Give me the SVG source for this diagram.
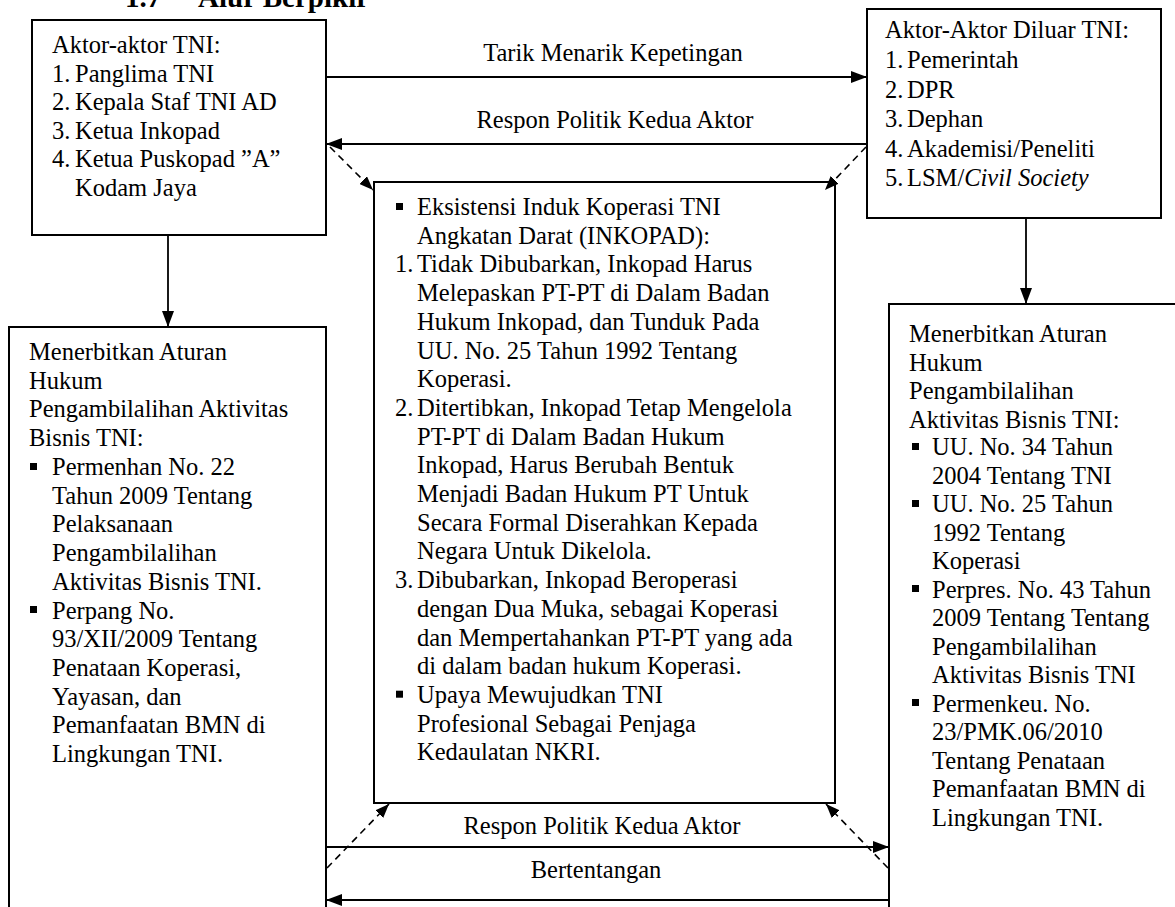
<svg xmlns="http://www.w3.org/2000/svg" width="1175" height="907" viewBox="0 0 1175 907">
<style>
text{font-family:"Liberation Serif","Times New Roman",serif;font-size:24.5px;fill:#000}
.title{font-weight:bold;font-size:29px}
.box{fill:#fff;stroke:#000;stroke-width:2}
.ln{stroke:#000;stroke-width:1.8;fill:none}
.dash{stroke:#000;stroke-width:1.6;fill:none;stroke-dasharray:7 5}
.mid{text-anchor:middle}
.b{fill:#000}
</style>
<defs>
<marker id="ah" viewBox="0 0 16 12" refX="16" refY="6" markerWidth="16" markerHeight="12" markerUnits="userSpaceOnUse" orient="auto">
<path d="M0,0 L16,6 L0,12 Z" fill="#000"/>
</marker>
<marker id="ahd" viewBox="0 0 14 11" refX="14" refY="5.5" markerWidth="14" markerHeight="11" markerUnits="userSpaceOnUse" orient="auto">
<path d="M0,0 L14,5.5 L0,11 Z" fill="#000"/>
</marker>
</defs>
<rect width="1175" height="907" fill="#fff"/>
<g id="title">
<text class="title" x="125" y="7">1.7</text>
<text class="title" x="198" y="7">Alur Berpikir</text>
</g>
<g id="node-aktor-tni">
<rect class="box" x="32" y="20" width="294" height="215"/>
<text x="52" y="53">Aktor-aktor TNI:</text>
<text x="52" y="81.5">1.</text><text x="75" y="81.5">Panglima TNI</text>
<text x="52" y="110">2.</text><text x="75" y="110">Kepala Staf TNI AD</text>
<text x="52" y="138.5">3.</text><text x="75" y="138.5">Ketua Inkopad</text>
<text x="52" y="167">4.</text><text x="75" y="167">Ketua Puskopad ”A”</text>
<text x="75" y="195.5">Kodam Jaya</text>
</g>
<g id="node-aktor-luar">
<rect class="box" x="867" y="9" width="294" height="209"/>
<text x="885" y="38">Aktor-Aktor Diluar TNI:</text>
<text x="885" y="68">1.</text><text x="907" y="68">Pemerintah</text>
<text x="885" y="97.5">2.</text><text x="907" y="97.5">DPR</text>
<text x="885" y="127">3.</text><text x="907" y="127">Dephan</text>
<text x="885" y="156.5">4.</text><text x="907" y="156.5">Akademisi/Peneliti</text>
<text x="885" y="186">5.</text><text x="907" y="186">LSM/<tspan font-style="italic">Civil Society</tspan></text>
</g>
<g id="node-inkopad">
<rect class="box" x="374" y="182" width="461" height="621"/>
<rect class="b" x="396" y="203" width="7" height="7"/>
<text x="395" y="272.4">1.</text>
<text x="395" y="415.8">2.</text>
<text x="395" y="587.9">3.</text>
<rect class="b" x="396" y="690.7" width="7" height="7"/>
<text x="417" y="215">Eksistensi Induk Koperasi TNI<tspan x="417" dy="28.7">Angkatan Darat (INKOPAD):</tspan><tspan x="417" dy="28.7">Tidak Dibubarkan, Inkopad Harus</tspan><tspan x="417" dy="28.7">Melepaskan PT-PT di Dalam Badan</tspan><tspan x="417" dy="28.7">Hukum Inkopad, dan Tunduk Pada</tspan><tspan x="417" dy="28.7">UU. No. 25 Tahun 1992 Tentang</tspan><tspan x="417" dy="28.7">Koperasi.</tspan><tspan x="417" dy="28.7">Ditertibkan, Inkopad Tetap Mengelola</tspan><tspan x="417" dy="28.7">PT-PT di Dalam Badan Hukum</tspan><tspan x="417" dy="28.7">Inkopad, Harus Berubah Bentuk</tspan><tspan x="417" dy="28.7">Menjadi Badan Hukum PT Untuk</tspan><tspan x="417" dy="28.7">Secara Formal Diserahkan Kepada</tspan><tspan x="417" dy="28.7">Negara Untuk Dikelola.</tspan><tspan x="417" dy="28.7">Dibubarkan, Inkopad Beroperasi</tspan><tspan x="417" dy="28.7">dengan Dua Muka, sebagai Koperasi</tspan><tspan x="417" dy="28.7">dan Mempertahankan PT-PT yang ada</tspan><tspan x="417" dy="28.7">di dalam badan hukum Koperasi.</tspan><tspan x="417" dy="28.7">Upaya Mewujudkan TNI</tspan><tspan x="417" dy="28.7">Profesional Sebagai Penjaga</tspan><tspan x="417" dy="28.7">Kedaulatan NKRI.</tspan></text>
</g>
<g id="node-aturan-kiri">
<rect class="box" x="9" y="327" width="317" height="600"/>
<text x="29" y="360">Menerbitkan Aturan<tspan x="29" dy="28.7">Hukum</tspan><tspan x="29" dy="28.7">Pengambilalihan Aktivitas</tspan><tspan x="29" dy="28.7">Bisnis TNI:</tspan></text>
<rect class="b" x="30" y="463" width="7" height="7"/>
<rect class="b" x="30" y="606" width="7" height="7"/>
<text x="52" y="475">Permenhan No. 22<tspan x="52" dy="28.7">Tahun 2009 Tentang</tspan><tspan x="52" dy="28.7">Pelaksanaan</tspan><tspan x="52" dy="28.7">Pengambilalihan</tspan><tspan x="52" dy="28.7">Aktivitas Bisnis TNI.</tspan><tspan x="52" dy="28.7">Perpang No.</tspan><tspan x="52" dy="28.7">93/XII/2009 Tentang</tspan><tspan x="52" dy="28.7">Penataan Koperasi,</tspan><tspan x="52" dy="28.7">Yayasan, dan</tspan><tspan x="52" dy="28.7">Pemanfaatan BMN di</tspan><tspan x="52" dy="28.7">Lingkungan TNI.</tspan></text>
</g>
<g id="node-aturan-kanan">
<rect class="box" x="889" y="304" width="300" height="620"/>
<text x="909" y="342">Menerbitkan Aturan<tspan x="909" dy="28.5">Hukum</tspan><tspan x="909" dy="28.5">Pengambilalihan</tspan><tspan x="909" dy="28.5">Aktivitas Bisnis TNI:</tspan></text>
<rect class="b" x="912" y="443" width="7" height="7"/>
<rect class="b" x="912" y="500" width="7" height="7"/>
<rect class="b" x="912" y="585" width="7" height="7"/>
<rect class="b" x="912" y="699" width="7" height="7"/>
<text x="932" y="455">UU. No. 34 Tahun<tspan x="932" dy="28.5">2004 Tentang TNI</tspan><tspan x="932" dy="28.5">UU. No. 25 Tahun</tspan><tspan x="932" dy="28.5">1992 Tentang</tspan><tspan x="932" dy="28.5">Koperasi</tspan><tspan x="932" dy="28.5">Perpres. No. 43 Tahun</tspan><tspan x="932" dy="28.5">2009 Tentang Tentang</tspan><tspan x="932" dy="28.5">Pengambilalihan</tspan><tspan x="932" dy="28.5">Aktivitas Bisnis TNI</tspan><tspan x="932" dy="28.5">Permenkeu. No.</tspan><tspan x="932" dy="28.5">23/PMK.06/2010</tspan><tspan x="932" dy="28.5">Tentang Penataan</tspan><tspan x="932" dy="28.5">Pemanfaatan BMN di</tspan><tspan x="932" dy="28.5">Lingkungan TNI.</tspan></text>
</g>
<g id="connectors">
<line class="ln" x1="326" y1="77" x2="867" y2="77" marker-end="url(#ah)"/>
<text class="mid" x="613" y="61">Tarik Menarik Kepetingan</text>
<line class="ln" x1="867" y1="144" x2="326" y2="144" marker-end="url(#ah)"/>
<text class="mid" x="615" y="128">Respon Politik Kedua Aktor</text>
<line class="dash" x1="330" y1="147" x2="373" y2="190" marker-end="url(#ahd)"/>
<line class="dash" x1="866" y1="147" x2="825" y2="190" marker-end="url(#ahd)"/>
<line class="ln" x1="168" y1="235" x2="168" y2="327" marker-end="url(#ah)"/>
<line class="ln" x1="1026" y1="218" x2="1026" y2="304" marker-end="url(#ah)"/>
<line class="ln" x1="326" y1="847" x2="889" y2="847" marker-end="url(#ah)"/>
<text class="mid" x="602" y="834">Respon Politik Kedua Aktor</text>
<line class="ln" x1="889" y1="900" x2="326" y2="900" marker-end="url(#ah)"/>
<text class="mid" x="596" y="878">Bertentangan</text>
<line class="dash" x1="327" y1="868" x2="389" y2="804" marker-end="url(#ahd)"/>
<line class="dash" x1="888" y1="868" x2="826" y2="804" marker-end="url(#ahd)"/>
</g>
</svg>
